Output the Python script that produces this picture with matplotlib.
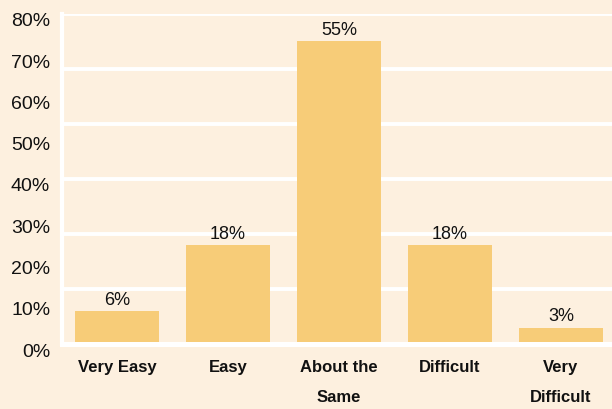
import numpy as np
import matplotlib.pyplot as plt
import matplotlib.transforms as mtransforms

# 数据
categories = ["Very Easy", "Easy", "About the\nSame", "Difficult", "Very\nDifficult"]
values = [6, 18, 55, 18, 3]
value_labels = ["6%", "18%", "55%", "18%", "3%"]
# 原图的纵轴标签与网格不对齐：9 个标签均匀分布在 0-60 的范围内
ytick_labels = ["0%", "10%", "20%", "30%", "40%", "50%", "60%", "70%", "80%"]

bg = "#FDF0DF"
bar_color = "#F7CC78"
text_color = "#111111"

fig = plt.figure(figsize=(6.12, 4.09), dpi=100, facecolor=bg)
ax = fig.add_axes([0.1013, 0.1589, 0.8987, 0.8069])
ax.set_facecolor(bg)

x = np.arange(len(categories))
bars = ax.bar(x, values, width=0.757, color=bar_color, zorder=2)

ax.set_xlim(-0.495, 4.46)
ax.set_ylim(0, 60)

# 白色网格线
for g in range(10, 61, 10):
    ax.axhline(g, color="white", lw=2.8, zorder=1)

for s in ["top", "right"]:
    ax.spines[s].set_visible(False)
ax.spines["left"].set_color("white")
ax.spines["left"].set_linewidth(3)
ax.spines["bottom"].set_color("white")
ax.spines["bottom"].set_linewidth(3.6)
ax.spines["bottom"].set_zorder(3)

# 数值标签
for b, lab in zip(bars, value_labels):
    ax.annotate(lab, (b.get_x() + b.get_width() / 2, b.get_height()),
                xytext=(0, 1.5), textcoords="offset points",
                ha="center", va="bottom", fontsize=13, color=text_color,
                family=["Liberation Sans", "DejaVu Sans"])

# 纵轴
ypos = np.linspace(0, 60, len(ytick_labels))
ax.set_yticks(ypos, ytick_labels)
ax.tick_params(axis="y", length=0, pad=8.5, labelsize=14, labelcolor=text_color)
offset = mtransforms.ScaledTranslation(0, -6 / 100, fig.dpi_scale_trans)
for lab in ax.get_yticklabels():
    lab.set_family(["Liberation Sans", "DejaVu Sans"])
    lab.set_transform(lab.get_transform() + offset)

# 横轴
ax.set_xticks(x, categories)
ax.tick_params(axis="x", length=0, pad=11.5, labelcolor=text_color)
for lab in ax.get_xticklabels():
    lab.set_family(["Liberation Sans Narrow", "Liberation Sans", "DejaVu Sans"])
    lab.set_fontweight("bold")
    lab.set_fontsize(12)
    lab.set_linespacing(2.25)
    lab.set_va("top")

fig.savefig("out.png", dpi=100, facecolor=bg)
